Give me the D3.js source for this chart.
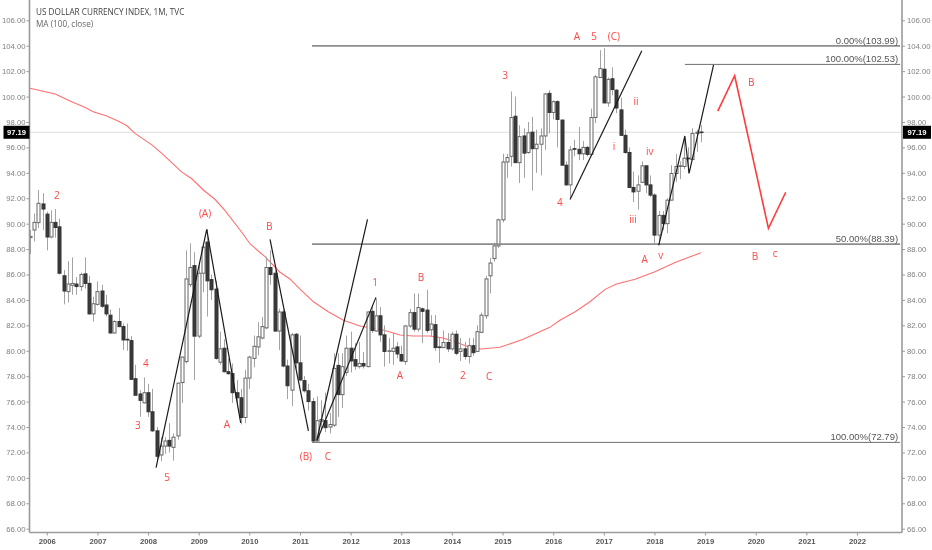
<!DOCTYPE html>
<html><head><meta charset="utf-8">
<script src="https://d3js.org/d3.v7.min.js"></script>
<style>html,body{margin:0;padding:0;background:#fff}svg{display:block;filter:blur(0.3px)}</style></head><body>
<svg id="c" width="932" height="550"></svg>
<script>
// monthly candles, first bar = Sep 2005
const opens=[88.9,89.5,90.08,91.55,90.75,88.95,90.1,89.75,85.9,84.65,
85.15,85.25,85.05,86.05,85.3,82.9,83.65,84.7,83.6,82.8,
81.4,82.3,81.9,80.9,80.8,77.8,76.6,75.9,76.7,75.2,
73.7,71.8,72.5,72.95,72.4,73.3,77.5,79.15,85.2,86.7,
81.15,86.1,88.55,85.6,84.85,79.1,80.2,78.35,78.2,76.7,
76.3,74.75,77.85,79.4,80.3,81.0,81.8,86.55,86.1,81.55,
83.05,78.8,76.9,81.3,79.05,77.65,76.85,76.0,72.9,74.45,
74.5,74.0,74.15,78.85,76.55,78.3,80.2,79.3,78.75,79.0,
78.75,83.1,81.55,82.75,81.25,79.95,79.95,80.3,79.7,79.15,
81.95,83.0,81.7,83.3,83.2,81.65,82.05,80.3,80.25,80.65,
80.15,81.3,79.95,80.15,79.55,80.4,79.95,81.45,82.75,85.9,
87.25,88.25,90.3,94.85,95.3,98.45,94.8,96.9,95.6,97.2,
95.9,96.25,96.9,100.25,98.75,99.6,98.15,94.6,93.05,95.9,
95.85,95.5,96.0,95.45,98.35,101.5,102.15,99.5,101.4,100.5,
98.95,96.95,95.6,92.85,92.55,93.25,94.55,93.05,92.25,89.1,
90.65,90.0,91.85,93.95,94.5,94.5,95.15,95.05,97.1,97.21];
const closes=[89.0,90.1,91.6,91.15,88.95,90.1,89.7,86.1,84.7,85.25,
85.3,85.05,86.0,85.3,82.9,83.7,84.65,83.5,82.9,81.4,
82.3,81.9,80.85,80.85,77.75,76.5,76.1,76.7,75.2,73.7,
71.7,72.5,72.9,72.5,73.2,77.45,79.5,85.65,86.55,81.15,
86.1,88.15,85.5,84.8,79.4,80.15,78.35,78.2,76.7,76.3,
74.75,77.85,79.5,80.35,81.1,81.9,86.55,86.0,81.55,83.05,
78.8,77.25,81.25,79.05,77.7,76.85,76.0,72.9,74.5,74.6,
73.95,74.2,78.6,76.55,78.75,80.2,79.2,78.8,79.0,78.8,
83.05,81.6,82.75,81.25,79.95,80.0,80.2,79.75,79.2,81.95,
83.0,81.7,83.4,83.1,81.6,82.1,80.25,80.25,80.65,80.15,
81.3,79.8,80.15,79.55,80.4,79.85,81.5,82.8,85.65,86.9,
88.25,90.3,94.85,95.2,98.35,94.8,96.85,95.55,97.15,95.9,
96.25,96.9,100.2,98.75,99.6,98.2,94.6,93.05,95.8,95.85,
95.5,96.0,95.45,98.35,101.55,102.2,99.5,101.35,100.55,99.1,
96.95,95.6,92.85,92.5,93.05,94.55,93.05,92.25,89.1,90.65,
90.0,91.85,93.95,94.5,94.55,95.15,95.1,97.1,97.2,97.19];
const highs=[89.5,90.8,92.65,92.4,90.95,91.05,91.15,90.4,86.35,87.05,
87.35,85.8,86.15,87.35,85.9,84.25,85.45,85.2,84.4,83.25,
82.4,83.35,82.15,82.15,81.15,78.9,76.9,77.9,77.4,77.0,
74.0,73.2,73.2,74.3,73.5,77.5,79.55,87.9,88.45,87.75,
87.0,88.45,89.55,86.0,85.5,81.5,80.9,79.4,79.0,77.7,
77.0,78.5,79.6,81.2,82.25,82.65,87.4,87.9,86.3,83.3,
83.2,79.3,81.4,81.4,81.2,78.0,77.4,76.3,76.4,76.1,
76.7,75.1,79.8,79.8,79.8,81.2,81.5,80.6,80.7,79.9,
83.1,83.6,84.1,83.45,82.0,81.0,81.4,80.7,80.4,82.0,
83.3,84.5,84.5,83.4,84.8,82.8,82.8,81.0,81.6,81.4,
81.5,81.6,81.0,80.7,81.0,81.0,82.0,83.0,85.9,87.3,
88.5,90.4,95.5,95.5,100.4,100.0,97.75,97.5,98.0,98.4,
97.4,97.5,100.3,100.5,99.7,99.7,98.2,94.9,96.1,96.6,
97.6,96.5,96.1,99.05,101.7,103.65,103.8,101.5,102.3,100.6,
99.9,97.4,96.0,94.1,93.8,94.9,94.6,93.8,92.4,91.0,
91.0,92.0,94.6,95.5,94.9,96.7,96.0,97.5,97.4,97.75];
const lows=[87.6,88.6,89.65,89.5,87.9,88.85,88.9,86.0,83.65,83.8,
84.4,84.4,84.7,84.9,82.85,82.3,83.55,83.35,82.7,81.35,
81.35,81.85,80.05,80.0,77.7,76.5,74.8,75.85,74.8,73.6,
71.4,71.3,71.9,72.0,71.35,73.0,75.9,79.0,85.0,77.7,
81.0,84.6,82.7,84.0,79.3,78.9,78.3,78.1,75.9,75.6,
74.2,74.3,77.0,78.7,79.65,80.9,81.7,85.2,81.5,80.05,
78.7,76.2,75.65,78.6,77.6,76.7,75.3,72.8,72.85,73.8,
73.6,73.5,74.0,74.8,75.5,78.0,78.3,78.5,78.6,78.6,
78.7,81.4,81.5,80.7,78.75,79.0,78.9,79.4,79.1,78.9,
81.8,81.5,81.5,80.6,81.4,81.1,80.0,79.05,80.2,79.9,
80.0,79.65,79.2,79.3,79.0,79.6,79.9,81.4,82.5,84.5,
87.0,88.1,90.1,93.6,94.5,94.8,93.2,93.6,95.5,92.6,
94.0,93.8,95.8,97.1,98.2,96.0,94.6,93.0,92.0,95.3,
95.0,95.0,95.3,95.3,97.9,101.5,99.5,99.2,100.1,98.7,
96.9,95.5,92.8,91.7,91.1,93.2,92.4,92.1,88.45,88.4,
89.5,89.25,91.8,93.3,93.5,94.3,94.0,95.0,95.65,96.4];

// moving average: month index, price
const maIndex=[0,6,9.5,13,15,18.2,21,23,24.9,28.9,31.2,33.6,36,38.3,41.1,43.9,46.2,49.8,52.2,55.7,59.2,61.6,64,67.2,70.7,74.3,78.2,83.7,87.7,90.8,94.8,97.9,101.1,103.8,107,111.4,116.9,123.2,125.6,129.2,132.7,136.3,139,143.4,148.1,153.3,159];
const maValues=[100.66,100.2,99.66,99.16,98.8,98.47,98.05,97.7,97.1,96.2,95.55,94.8,94.05,93.55,92.65,91.9,91.05,89.5,88.4,87.4,86.2,85.65,84.85,83.85,83.07,82.4,81.95,81.64,81.24,81.16,81.16,81.0,80.67,80.32,80.14,80.27,80.9,81.84,82.4,83.07,83.86,84.83,85.25,85.62,86.22,87.0,87.71];

// drawn trend lines: [month index, price] vertices
const blackLines=[
 [[29.9,70.8],[41.9,89.56],[49.95,74.32]],
 [[56.9,88.77],[66,73.69]],
 [[68,72.98],[80,90.33]],
 [[68,72.92],[82,84.2]],
 [[128,91.9],[145,103.6]],
 [[149,88.3],[155.2,96.9],[156.2,93.96],[162,102.5]]
];
const redPath=[[163,98.86],[167,101.64],[175,89.63],[179.1,92.47]];

// fibonacci levels: label, price, start index, line weight
const fibLabels=["0.00%(103.99)","100.00%(102.53)","50.00%(88.39)","100.00%(72.79)"];
const fibPrices=[103.99,102.53,88.39,72.79];
const fibStarts=[66.85,155.2,66.85,66.85];
const fibWeights=[1.6,1,1.6,1];
const fibEnd=206.2;

// wave labels: text, month index, price
const waveLabels=[["2",6.4,92.26],["(A)",41.5,90.84],["B",56.7,89.82],["1",81.8,85.41],["B",92.7,85.8],["3",112.6,101.7],["A",129.6,104.77],["5",133.7,104.77],["(C)",138.4,104.77],["ii",143.6,99.65],["i",138.4,96.11],["iv",146.9,95.72],["iii",142.9,90.37],["4",125.6,91.7],["A",145.7,87.22],["v",149.5,87.54],["B",170.9,101.15],["B",171.8,87.46],["c",176.6,87.69],["4",27.5,79.04],["3",25.6,74.17],["5",32.5,70.07],["A",46.7,74.24],["A",87.7,78.09],["2",102.6,78.09],["C",108.8,78.01],["(B)",65.4,71.75],["C",70.6,71.75]];

const yearTicks=d3.range(2006,2023);
const priceTicks=d3.range(66,107,2);
const lastPrice=97.19;

const left=29.5,right=902,bottom=532.5;
const x=d3.scaleLinear().domain([0,206.7]).range([29.9,902.2]);
const y=d3.scaleLinear().domain([66,106]).range([528.7,20.3]);
const janIndex=yr=>(yr-2005)*12-8;

const svg=d3.select("#c");
svg.append("defs").append("clipPath").attr("id","plot").append("rect")
 .attr("x",left).attr("y",0).attr("width",right-left).attr("height",bottom);
const g=svg.append("g").attr("clip-path","url(#plot)");

// last-price line
g.append("line").attr("x1",left).attr("x2",right).attr("y1",y(lastPrice)).attr("y2",y(lastPrice))
 .attr("stroke","#dddddd").attr("stroke-width",1);

// moving average
const ln=d3.line().x(d=>x(d[0])).y(d=>y(d[1]));
g.append("path").attr("d",ln(maIndex.map((m,k)=>[m,maValues[k]])))
 .attr("fill","none").attr("stroke","#ff6f6f").attr("stroke-width",1.1);

// candles
const idx=d3.range(opens.length);
const px=i=>Math.round(x(i))+0.5;
g.selectAll(".w").data(idx).join("line").attr("class","w")
 .attr("x1",px).attr("x2",px).attr("y1",i=>y(highs[i])).attr("y2",i=>y(lows[i]))
 .attr("stroke","#a3a3a3").attr("stroke-width",1);
g.selectAll(".b").data(idx).join("rect").attr("class","b")
 .attr("x",i=>px(i)-1.5).attr("width",3)
 .attr("y",i=>y(Math.max(opens[i],closes[i])))
 .attr("height",i=>Math.max(0.6,Math.abs(y(opens[i])-y(closes[i]))))
 .attr("fill",i=>closes[i]>=opens[i]?"#ffffff":"#3a3a3a")
 .attr("stroke",i=>closes[i]>=opens[i]?"#666666":"#333333").attr("stroke-width",1);

// fib levels
fibPrices.forEach((p,k)=>{
 g.append("line").attr("x1",x(fibStarts[k])).attr("x2",x(fibEnd)).attr("y1",y(p)).attr("y2",y(p))
  .attr("stroke",fibWeights[k]>1?"#8c8c8c":"#707070").attr("stroke-width",fibWeights[k]);
 g.append("text").attr("x",x(fibEnd)-2).attr("y",y(p)-2).attr("text-anchor","end")
  .attr("font-family","'Liberation Sans',Arial,sans-serif").attr("font-size",9.5).attr("fill","#555")
  .text(fibLabels[k]);
});

// trend lines
blackLines.forEach(l=>g.append("path").attr("d",ln(l)).attr("fill","none")
 .attr("stroke","#1a1a1a").attr("stroke-width",1.2));
g.append("path").attr("d",ln(redPath)).attr("fill","none").attr("stroke","#ff3b3b").attr("stroke-width",1.6);

// wave labels
g.selectAll(".l").data(waveLabels).join("text").attr("class","l")
 .attr("x",d=>x(d[1])).attr("y",d=>y(d[2])).attr("text-anchor","middle").attr("dominant-baseline","central")
 .attr("font-family","'Open Sans',sans-serif").attr("font-size",10).attr("fill","#ff4747")
 .text(d=>d[0]);

// axes
function styleAxis(a,sz,col,w){
 a.select(".domain").attr("stroke","#9a9a9a").attr("stroke-width",1.6);
 a.selectAll(".tick line").attr("stroke","#9a9a9a");
 a.selectAll("text").attr("font-family","'Liberation Sans',Arial,sans-serif").attr("font-size",sz).attr("fill",col).attr("font-weight",w);
}
const yL=d3.axisLeft(y).tickValues(priceTicks).tickFormat(d3.format(".2f")).tickSize(3).tickPadding(1);
const yR=d3.axisRight(y).tickValues(priceTicks).tickFormat(d3.format(".2f")).tickSize(3).tickPadding(2);
const xB=d3.axisBottom(x).tickValues(yearTicks.map(janIndex)).tickFormat(v=>String(2005+(v+8)/12)).tickSize(3).tickPadding(3);
const aL=svg.append("g").attr("transform",`translate(${left},0)`).call(yL);
const aR=svg.append("g").attr("transform",`translate(${right},0)`).call(yR);
const aB=svg.append("g").attr("transform",`translate(0,${bottom})`).call(xB);
styleAxis(aL,7.7,"#808080",400);styleAxis(aR,7.7,"#808080",400);styleAxis(aB,7.7,"#555",700);
aL.select(".domain").attr("d",`M0,0V${bottom}`);
aR.select(".domain").attr("d",`M0,0V${bottom}`);
aB.select(".domain").attr("d",`M${left},0H${right}`);

// price tags
[[3.5,26],[903,28]].forEach(t=>{
 svg.append("rect").attr("x",t[0]).attr("y",y(lastPrice)-6.5).attr("width",t[1]).attr("height",13).attr("fill","#000");
 svg.append("text").attr("x",t[0]+t[1]/2).attr("y",y(lastPrice)).attr("text-anchor","middle").attr("dominant-baseline","central")
  .attr("font-family","'Liberation Sans',Arial,sans-serif").attr("font-size",7.6).attr("font-weight",700).attr("fill","#fff").text(lastPrice.toFixed(2));
});

// titles
svg.append("text").attr("x",36).attr("y",14.5).attr("font-family","'Open Sans',sans-serif").attr("font-size",8.2).attr("fill","#444").text("US DOLLAR CURRENCY INDEX, 1M, TVC");
svg.append("text").attr("x",36).attr("y",26.5).attr("font-family","'Open Sans',sans-serif").attr("font-size",8.2).attr("fill","#666").text("MA (100, close)");
</script></body></html>
